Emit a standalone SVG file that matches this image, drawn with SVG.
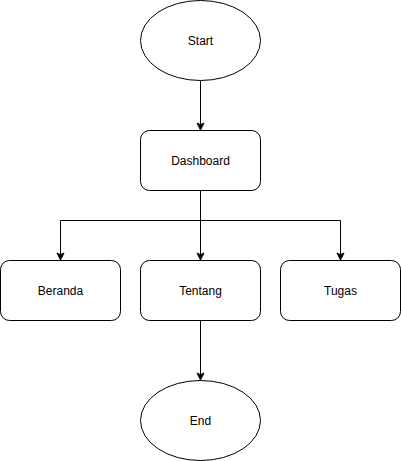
<svg xmlns="http://www.w3.org/2000/svg" width="401" height="461" viewBox="0 0 401 461">
<style>
.n{fill:#fff;stroke:#000;stroke-width:1}
.t{font-family:"Liberation Sans",Arial,sans-serif;font-size:12px;fill:#000;text-anchor:middle;dominant-baseline:central}
.c{fill:none;stroke:#000;stroke-width:1}
</style>
<defs>
<marker id="a" markerWidth="10" markerHeight="10" refX="0" refY="0" viewBox="-8 -5 10 10" markerUnits="userSpaceOnUse" orient="auto">
<path d="M0,0 L-7,-3.5 L-5.25,0 L-7,3.5 Z" fill="#000" stroke="#000" stroke-width="1"/>
</marker>
</defs>
<rect width="401" height="461" fill="#fff"/>
<g id="connectors">
<path class="c" d="M200.5,80.5 V130" marker-end="url(#a)"/>
<path class="c" d="M200.5,190.5 V260" marker-end="url(#a)"/>
<path class="c" d="M200.5,220.5 H60.5 V260" marker-end="url(#a)"/>
<path class="c" d="M200.5,220.5 H340.5 V260" marker-end="url(#a)"/>
<path class="c" d="M200.5,320.5 V380" marker-end="url(#a)"/>
</g>
<g id="start"><ellipse class="n" cx="200.5" cy="40.5" rx="60" ry="40"/><text class="t" x="200.5" y="40.5">Start</text></g>
<g id="dashboard"><rect class="n" x="140.5" y="130.5" width="120" height="60" rx="9"/><text class="t" x="200.5" y="160.5">Dashboard</text></g>
<g id="beranda"><rect class="n" x="0.5" y="260.5" width="120" height="60" rx="9"/><text class="t" x="60.5" y="290.5">Beranda</text></g>
<g id="tentang"><rect class="n" x="140.5" y="260.5" width="120" height="60" rx="9"/><text class="t" x="200.5" y="290.5">Tentang</text></g>
<g id="tugas"><rect class="n" x="280.5" y="260.5" width="120" height="60" rx="9"/><text class="t" x="340.5" y="290.5">Tugas</text></g>
<g id="end"><ellipse class="n" cx="200.5" cy="420.5" rx="60" ry="40"/><text class="t" x="200.5" y="420.5">End</text></g>
</svg>
